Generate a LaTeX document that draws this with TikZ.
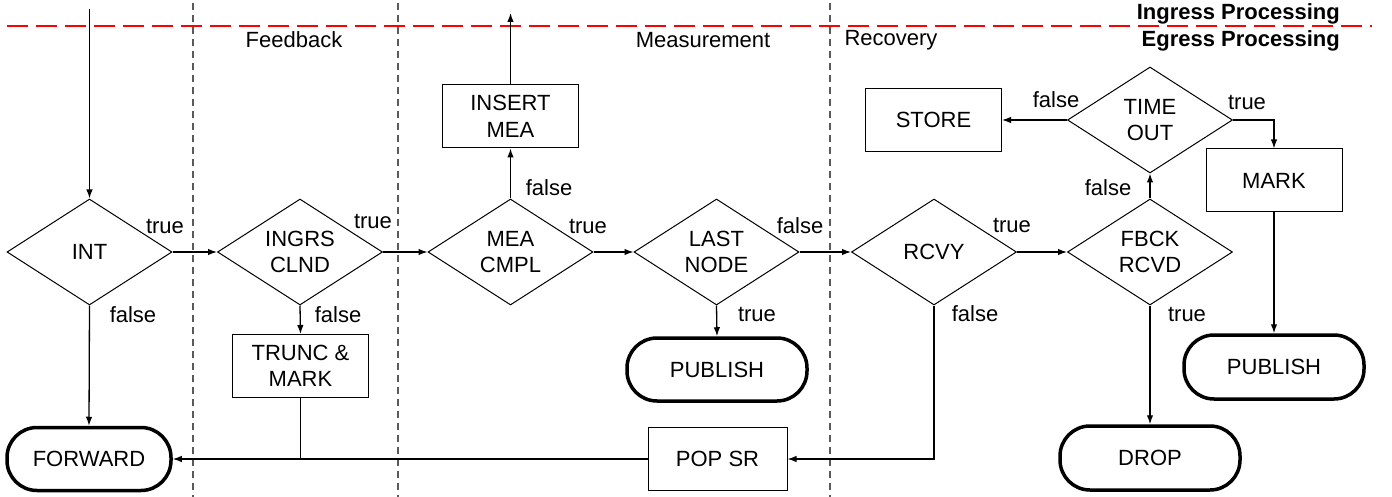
\documentclass[tikz,border=0pt]{standalone}
\usepackage{fontspec}
\setmainfont{Liberation Sans}
\usetikzlibrary{shapes.geometric,arrows.meta}
\definecolor{lanegray}{RGB}{90,90,90}

\begin{document}
\begin{tikzpicture}[x=1pt, y=-1pt, font=\fontsize{22}{26.5}\selectfont,
  dec/.style={diamond, draw, line width=1pt, inner sep=0pt, aspect=1.5,
    minimum width=165pt, minimum height=106pt, align=center},
  act/.style={rectangle, draw, line width=1pt, minimum width=136pt,
    minimum height=63pt, align=center},
  term/.style={rectangle, draw, line width=3.5pt, rounded corners=30pt,
    minimum width=180pt, minimum height=63pt},
  arr/.style={line width=1.3pt, -{Latex[length=9pt,width=6.5pt]}},
  lane/.style={lanegray, line width=1.5pt, dash pattern=on 7pt off 5pt}]
  \useasboundingbox (0,0) rectangle (1392,497);

  % lanes and ingress/egress border
  \draw[lane] (193,3) -- (193,497);
  \draw[lane] (398,3) -- (398,497);
  \draw[lane] (830,3) -- (830,497);
  \draw[red, line width=2pt, dash pattern=on 21pt off 8pt] (7,26) -- (1372,26);

  \node (FB) at (294,40) {Feedback};
  \node (MS) at (703,40) {Measurement};
  \node (RC) at (891,40) {Recovery};
  \node[anchor=east, inner sep=0pt, font=\fontsize{22}{26.5}\selectfont\bfseries] (ING) at (1340,13.5) {Ingress Processing};
  \node[anchor=east, inner sep=0pt, font=\fontsize{22}{26.5}\selectfont\bfseries] (EGR) at (1340,41) {Egress Processing};

  % decisions
  \node[dec] (INT) at (89.5,252) {INT};
  \node[dec] (INGRS) at (300,252) {INGRS\\CLND};
  \node[dec] (MEA) at (510.5,252) {MEA\\CMPL};
  \node[dec] (LAST) at (716.5,252) {LAST\\NODE};
  \node[dec] (RCVY) at (934,252) {RCVY};
  \node[dec] (FBCK) at (1150,252) {FBCK\\RCVD};
  \node[dec] (TIME) at (1150,120) {TIME\\OUT};

  % actions
  \node[act] (STORE) at (933.5,120) {STORE};
  \node[act] (MARK) at (1274,180.5) {MARK};
  \node[act] (INS) at (510.5,116.5) {INSERT\\MEA};
  \node[act] (TRUNC) at (300.5,366) {TRUNC \&\\MARK};
  \node[act, minimum width=139pt] (POP) at (717.5,459) {POP SR};

  % terminals
  \node[term, minimum width=164pt] (FWD) at (89,459) {FORWARD};
  \node[term] (PUB) at (717,369.5) {PUBLISH};
  \node[term, minimum height=64pt] (PUB2) at (1274,367) {PUBLISH};
  \node[term, minimum height=64pt] (DROP) at (1150,458) {DROP};

  \coordinate (IN) at (89.5,9);
  \coordinate (OUT) at (510.5,13);

  \draw[arr] (IN) -- (INT.north);
  \draw[arr] (INT.east) -- (INGRS.west);
  \draw[arr] (INT.south) -- (FWD.north);
  \draw[arr] (INGRS.east) -- (MEA.west);
  \draw[arr] (INGRS.south) -- (TRUNC.north);
  \draw[line width=1.3pt] (TRUNC.south) -- (TRUNC.south |- FWD.east);
  \draw[arr] (POP.west) -- (FWD.east);
  \draw[arr] (MEA.north) -- (INS.south);
  \draw[arr] (INS.north) -- (OUT);
  \draw[arr] (MEA.east) -- (LAST.west);
  \draw[arr] (LAST.east) -- (RCVY.west);
  \draw[arr] (LAST.south) -- (PUB.north);
  \draw[arr] (RCVY.east) -- (FBCK.west);
  \draw[arr] (RCVY.south) |- (POP.east);
  \draw[arr] (FBCK.north) -- (TIME.south);
  \draw[arr] (FBCK.south) -- (DROP.north);
  \draw[arr] (TIME.west) -- (STORE.east);
  \draw[arr] (TIME.east) -| (MARK.north);
  \draw[arr] (MARK.south) -- (PUB2.north);

  % branch labels
  \node (t1) at (165,226) {true};
  \node (f1) at (133,315) {false};
  \node (t2) at (373,221) {true};
  \node (f2) at (338,315) {false};
  \node (f3) at (549,188) {false};
  \node (t3) at (588,226) {true};
  \node (f4) at (800,226) {false};
  \node (t4) at (757,314) {true};
  \node (t5) at (1012,225) {true};
  \node (f5) at (975,314) {false};
  \node (f6) at (1108,188) {false};
  \node (t6) at (1187,314) {true};
  \node (f7) at (1056,100) {false};
  \node (t7) at (1247,102) {true};
\end{tikzpicture}
\end{document}
